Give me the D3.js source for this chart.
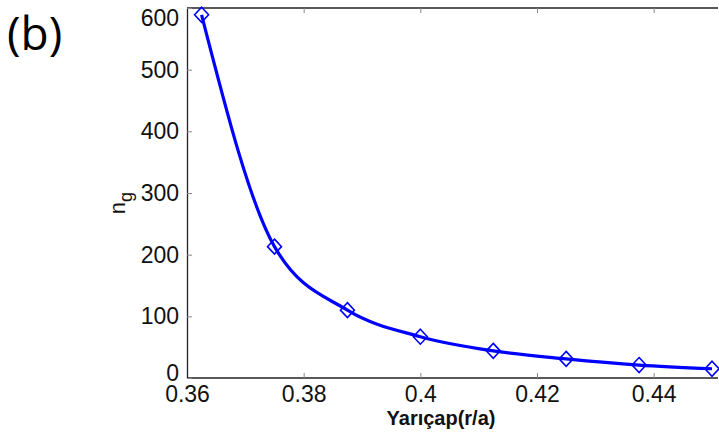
<!DOCTYPE html>
<html>
<head>
<meta charset="utf-8">
<script src="https://cdn.jsdelivr.net/npm/d3@7"></script>
<style>
  body { margin: 0; background: #fff; }
  svg { display: block; }
  .tick text { font-family: "Liberation Sans", Arial, sans-serif; font-size: 23px; fill: #111; }
</style>
</head>
<body>
<svg id="chart" width="719" height="432"></svg>
<script>
// radius values (r/a) and group index
var radius = [0.3625, 0.375, 0.3875, 0.4, 0.4125, 0.425, 0.4375, 0.45];
var ng = [589, 213, 110, 67, 44, 31, 21, 15];
var xTicks = [0.36, 0.38, 0.4, 0.42, 0.44];
var yTicks = [0, 100, 200, 300, 400, 500, 600];

var svg = d3.select("#chart");
var pLeft = 187, pRight = 712, pTop = 8, pBottom = 378;

var x = d3.scaleLinear().domain([0.36, 0.45]).range([pLeft, pRight]);
var y = d3.scaleLinear().domain([0, 600]).range([pBottom, pTop]);

//frame
svg.append("line").attr("x1", pLeft).attr("x2", 718).attr("y1", pTop).attr("y2", pTop)
  .attr("stroke", "#222").attr("stroke-width", 1.3);

var xAxis = svg.append("g").attr("transform", "translate(0," + pBottom + ")")
  .call(d3.axisBottom(x).tickValues(xTicks).tickSizeInner(-5).tickSizeOuter(0).tickPadding(8)
    .tickFormat(function(d){ return String(+d.toFixed(2)); }));
xAxis.select(".domain").attr("d", "M" + pLeft + ",0H718").attr("stroke", "#222").attr("stroke-width", 1.3);
xAxis.selectAll(".tick line").attr("stroke", "#888");

var xTop = svg.append("g").attr("transform", "translate(0," + pTop + ")")
  .call(d3.axisTop(x).tickValues(xTicks).tickSizeInner(-5).tickSizeOuter(0).tickFormat(""));
xTop.select(".domain").remove();
xTop.selectAll(".tick line").attr("stroke", "#888");

var yAxis = svg.append("g").attr("transform", "translate(" + pLeft + ",0)")
  .call(d3.axisLeft(y).tickValues(yTicks).tickSizeInner(-5).tickSizeOuter(0).tickPadding(8));
yAxis.select(".domain").attr("stroke", "#222").attr("stroke-width", 1.3);
yAxis.selectAll(".tick line").attr("stroke", "#888");
// top label sits a little lower so it is not clipped
yAxis.selectAll(".tick text").filter(function(d){ return d === 600; }).attr("dy", "0.75em");
yAxis.selectAll(".tick text").filter(function(d){ return d === 0; }).attr("dy", "0.1em");

//curve
var line = d3.line().x(function(d, i){ return x(radius[i]); }).y(function(d){ return y(d); })
  .curve(d3.curveMonotoneX);
svg.append("path").datum(ng).attr("d", line)
  .attr("fill", "none").attr("stroke", "#0000ff").attr("stroke-width", 3.2);

//markers
var diamond = "M0,-7.5L7,0L0,7.5L-7,0Z";
svg.selectAll(".mk").data(ng).enter().append("path")
  .attr("class", "mk")
  .attr("d", diamond)
  .attr("transform", function(d, i){ return "translate(" + x(radius[i]) + "," + y(d) + ")"; })
  .attr("fill", "none").attr("stroke", "#0000ff").attr("stroke-width", 1.6);

//labels
svg.append("text").attr("x", 441).attr("y", 425).attr("text-anchor", "middle")
  .attr("font-family", "Liberation Sans, Arial, sans-serif").attr("font-weight", "bold")
  .attr("font-size", 20).attr("fill", "#111").text("Yarıçap(r/a)");

var yl = svg.append("text").attr("transform", "translate(125,203) rotate(-90)")
  .attr("text-anchor", "middle")
  .attr("font-family", "Liberation Sans, Arial, sans-serif").attr("font-size", 22).attr("fill", "#111");
yl.append("tspan").text("n");
yl.append("tspan").attr("dy", 7).attr("font-size", 18).text("g");

svg.append("text").attr("x", 7).attr("y", 50)
  .attr("font-family", "Open Sans, sans-serif").attr("font-size", 46).attr("fill", "#000").text("(b)");
</script>
</body>
</html>
